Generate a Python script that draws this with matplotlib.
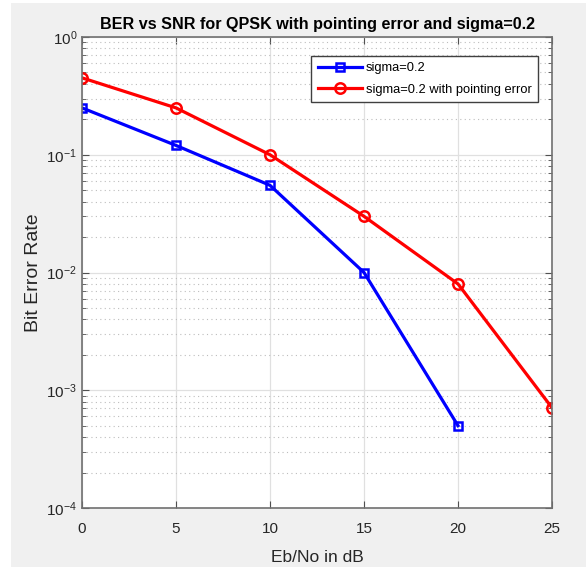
import numpy as np
import matplotlib
matplotlib.use("Agg")
import matplotlib.pyplot as plt
from matplotlib.patches import Rectangle
from matplotlib.ticker import LogLocator, NullFormatter

snr_sigma = [0, 5, 10, 15, 20]
ber_sigma = [0.25, 0.12, 0.055, 0.01, 5e-4]
snr_point = [0, 5, 10, 15, 20, 25]
ber_point = [0.45, 0.25, 0.10, 0.030, 0.008, 7.1e-4]
xticks = [0, 5, 10, 15, 20, 25]

plt.rcParams.update({
    "font.family": ["Liberation Sans", "DejaVu Sans"],
    "mathtext.fontset": "custom",
    "mathtext.rm": "Liberation Sans",
    "mathtext.it": "Liberation Sans",
})

W, H = 586, 569
fig = plt.figure(figsize=(W / 100, H / 100), dpi=100, facecolor="white")
fig.patches.append(Rectangle((11 / W, 2 / H), 1 - 11 / W, 564 / H,
                             transform=fig.transFigure, facecolor="#f0f0f0",
                             edgecolor="none", zorder=-10))

ax = fig.add_axes([82 / W, (H - 508) / H, 470 / W, 471 / H])
ax.set_facecolor("white")

ax.semilogy(snr_sigma, ber_sigma, color="#0000ff", lw=2.3, marker="s",
            ms=6, mfc="none", mew=1.8, label="sigma=0.2")
ax.semilogy(snr_point, ber_point, color="#ff0000", lw=2.3, marker="o",
            ms=7.5, mfc="none", mew=1.8, label="sigma=0.2 with pointing error")

ax.set_xlim(0, 25)
ax.set_ylim(1e-4, 1)
ax.set_xticks(xticks)
ax.yaxis.set_major_locator(LogLocator(base=10, numticks=10))
ax.yaxis.set_minor_locator(LogLocator(base=10, subs=np.arange(2, 10), numticks=20))
ax.yaxis.set_minor_formatter(NullFormatter())

ax.grid(True, which="major", color="#e0e0e0", lw=0.9, ls="-")
ax.grid(True, which="minor", axis="y", color="#bdbdbd", lw=0.8, ls=(0, (1, 3)))
ax.set_axisbelow(True)

for s in ax.spines.values():
    s.set_color("#707070")
    s.set_linewidth(1.2)
ax.tick_params(which="both", direction="in", top=True, right=True,
               colors="#505050", labelcolor="#262626")
ax.tick_params(which="major", length=5, labelsize=11)
ax.tick_params(which="minor", length=3)
ax.tick_params(axis="x", pad=10)

ax.set_xlabel("Eb/No in dB", fontsize=12.5, color="#262626", labelpad=10)
ax.set_ylabel("Bit Error Rate", fontsize=14, color="#262626", labelpad=3)
ax.set_title("BER vs SNR for QPSK with pointing error and sigma=0.2",
             fontsize=11.6, fontweight="bold", pad=6)

leg = ax.legend(loc="upper right", bbox_to_anchor=(0.970, 0.9597),
                borderaxespad=0, fontsize=9.3, fancybox=False,
                handlelength=3.4, handletextpad=0.3, borderpad=0.5,
                labelspacing=0.7, framealpha=1)
leg.get_frame().set_edgecolor("#404040")
leg.get_frame().set_linewidth(1.0)

fig.savefig("out.png", dpi=100)
